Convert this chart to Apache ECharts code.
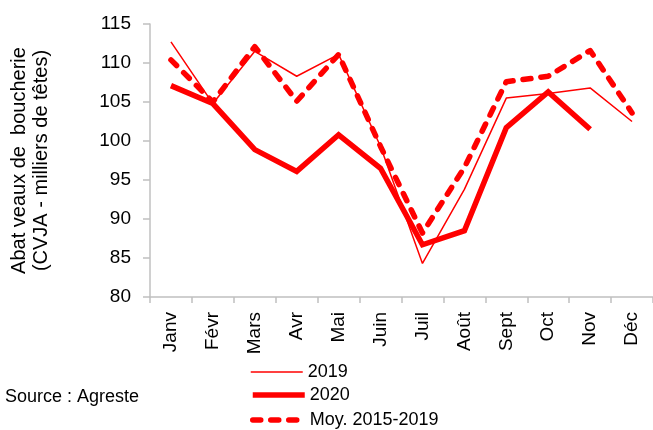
<!DOCTYPE html>
<html>
<head>
<meta charset="utf-8">
<script src="https://cdn.jsdelivr.net/npm/echarts@6/dist/echarts.min.js"></script>
<style>
html,body{margin:0;padding:0;background:#fff;}
#chart{width:653px;height:430px;}
</style>
</head>
<body>
<div id="chart"></div>
<script>
var months = ['Janv','Févr','Mars','Avr','Mai','Juin','Juil','Août','Sept','Oct','Nov','Déc'];
var y2019 = [112.7, 104.8, 111.5, 108.3, 111.1, 99.3, 84.3, 93.8, 105.5, 106.1, 106.8, 102.5];
var y2020 = [107.1, 104.8, 98.9, 96.1, 100.8, 96.5, 86.7, 88.5, 101.7, 106.3, 101.5, null];
var moy = [110.4, 105.0, 112.1, 105.1, 111.1, 99.3, 88.2, 96.6, 107.6, 108.3, 111.6, 103.6];
var yTicks = [80, 85, 90, 95, 100, 105, 110, 115];
var names = ['2019', '2020', 'Moy. 2015-2019'];

var RED = '#ff0000';
var font = 'Arial, "Liberation Sans", sans-serif';
var lineStyles = [
  {color: RED, width: 1.5},
  {color: RED, width: 5.5, join: 'miter'},
  {color: RED, width: 5.5, type: [8, 10], cap: 'round', join: 'round'}
];
var legendTops = [363, 386, 411];

function makeLegend(i) {
  return {
    orient: 'vertical', left: 250, top: legendTops[i], padding: 0,
    itemWidth: 52, itemHeight: 14, itemGap: 0,
    itemStyle: {opacity: 0},
    lineStyle: lineStyles[i],
    textStyle: {fontFamily: font, fontSize: 18, color: '#000'},
    data: [names[i]]
  };
}

var chart = echarts.init(document.getElementById('chart'));
chart.setOption({
  animation: false,
  backgroundColor: '#fff',
  grid: {left: 150, right: 0, top: 24, bottom: 133},
  legend: [makeLegend(0), makeLegend(1), makeLegend(2)],
  graphic: [{
    type: 'text', left: 5, top: 388,
    style: {text: 'Source : Agreste', fontFamily: font, fontSize: 18, fill: '#000'}
  }],
  xAxis: {
    type: 'category', data: months, boundaryGap: true,
    axisLine: {lineStyle: {color: '#c0c0c0', width: 1.5}},
    axisTick: {show: true, length: 6, lineStyle: {color: '#c0c0c0', width: 1.5}},
    axisLabel: {rotate: 90, margin: 15, fontFamily: font, fontSize: 19, color: '#000', interval: 0},
    splitLine: {show: false}
  },
  yAxis: {
    type: 'value', min: yTicks[0], max: yTicks[yTicks.length - 1], interval: 5,
    name: 'Abat veaux de  boucherie\n(CVJA - milliers de têtes)',
    nameLocation: 'middle', nameRotate: 90, nameGap: 98,
    nameTextStyle: {fontFamily: font, fontSize: 20, color: '#000', lineHeight: 22},
    axisLine: {show: true, lineStyle: {color: '#c0c0c0', width: 1.5}},
    axisTick: {show: true, length: 7, lineStyle: {color: '#c0c0c0', width: 1.5}},
    axisLabel: {margin: 19, fontFamily: font, fontSize: 19, color: '#000'},
    splitLine: {show: false}
  },
  series: [
    {name: names[0], type: 'line', data: y2019, symbol: 'none', color: RED, lineStyle: lineStyles[0]},
    {name: names[1], type: 'line', data: y2020, symbol: 'none', color: RED, lineStyle: lineStyles[1]},
    {name: names[2], type: 'line', data: moy, symbol: 'none', color: RED, lineStyle: lineStyles[2]}
  ]
});
</script>
</body>
</html>
